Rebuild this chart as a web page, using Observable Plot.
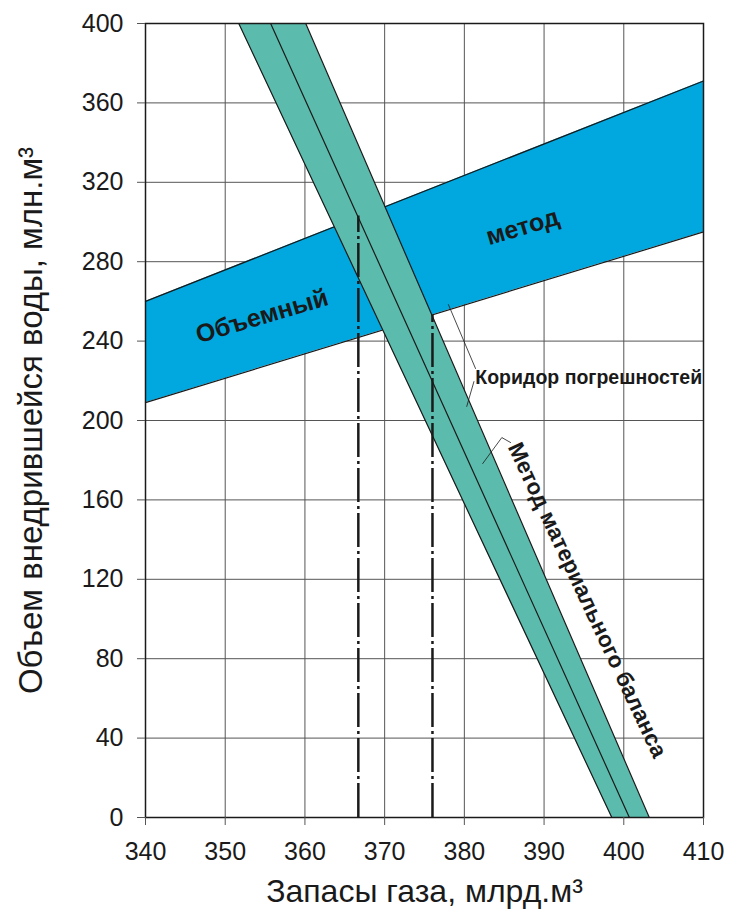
<!DOCTYPE html>
<html>
<head>
<meta charset="utf-8">
<script src="https://cdn.jsdelivr.net/npm/d3@7"></script>
<script src="https://cdn.jsdelivr.net/npm/@observablehq/plot@0.6"></script>
<style>
  body { margin: 0; background: white; }
  #chart { width: 730px; height: 916px; }
</style>
</head>
<body>
<div id="chart"></div>
<script>
// Axis ticks
const xTicks = [340, 350, 360, 370, 380, 390, 400, 410];
const yTicks = [0, 40, 80, 120, 160, 200, 240, 280, 320, 360, 400];

// Volumetric method band (x -> lower/upper water volume)
const volumetricX = [340, 410];
const volumetricLower = [209, 295];
const volumetricUpper = [260, 371];

// Material balance band (water volume -> reserves)
const balanceY = [400, 0];
const balanceLeft = [351.7, 398.5];
const balanceCenter = [355.7, 400.7];
const balanceRight = [360.1, 403.2];

// Estimated reserves (dash-dot verticals)
const estimateX = [366.7, 376.0];
const estimateTop = [303, 253];

// Leader lines for annotations
const leaderCorridorA = [[378.0, 258.4], [381.4, 226.2]];
const leaderCorridorB = [[381.2, 219.6], [380.3, 207.1]];
const leaderBalance = [[382.3, 178.3], [384.7, 191.4], [385.8, 188.9]];

// Labels
const labels = [
  {text: "Объемный", x: 354.6, y: 252.5, rotate: -16.5, size: 25},
  {text: "метод", x: 387.3, y: 297.5, rotate: -16.5, size: 25},
  {text: "Метод материального баланса", x: 395.4, y: 109.5, rotate: 64.9, size: 22.5}
];
const corridorLabel = [{text: "Коридор погрешностей", x: 395.6, y: 221.6}];

const xTitle = "Запасы газа, млрд.м³";
const yTitle = "Объем внедрившейся воды, млн.м³";

const blue = "#00a8df";
const green = "#5bbbac";
const ink = "#1a1a1a";

const volumetric = volumetricX.map((x, i) => ({x, lower: volumetricLower[i], upper: volumetricUpper[i]}));
const balance = balanceY.map((y, i) => ({y, left: balanceLeft[i], center: balanceCenter[i], right: balanceRight[i]}));
const estimates = estimateX.map((x, i) => ({x, top: estimateTop[i]}));
const toPts = arr => arr.map(([x, y]) => ({x, y}));

const chart = Plot.plot({
  width: 730,
  height: 916,
  marginLeft: 145,
  marginRight: 27,
  marginTop: 23,
  marginBottom: 99,
  x: {domain: [340, 410]},
  y: {domain: [0, 400]},
  style: {fontFamily: "'Liberation Sans', Arial, sans-serif", fontSize: "25px", background: "white", color: ink},
  marks: [
    Plot.gridX(xTicks, {stroke: "#555", strokeOpacity: 1, strokeWidth: 1}),
    Plot.gridY(yTicks, {stroke: "#555", strokeOpacity: 1, strokeWidth: 1}),
    Plot.areaY(volumetric, {x: "x", y1: "lower", y2: "upper", fill: blue}),
    Plot.line(volumetric, {x: "x", y: "upper", stroke: ink, strokeWidth: 1.2}),
    Plot.line(volumetric, {x: "x", y: "lower", stroke: ink, strokeWidth: 1.2}),
    Plot.areaX(balance, {y: "y", x1: "left", x2: "right", fill: green}),
    Plot.line(balance, {x: "left", y: "y", stroke: ink, strokeWidth: 1.2}),
    Plot.line(balance, {x: "center", y: "y", stroke: ink, strokeWidth: 1.2}),
    Plot.line(balance, {x: "right", y: "y", stroke: ink, strokeWidth: 1.2}),
    Plot.ruleX(estimates, {x: "x", y1: 0, y2: "top", stroke: ink, strokeWidth: 2.5, strokeDasharray: "34,4,3,4"}),
    Plot.line(toPts(leaderCorridorA), {x: "x", y: "y", stroke: ink, strokeWidth: 0.8}),
    Plot.line(toPts(leaderCorridorB), {x: "x", y: "y", stroke: ink, strokeWidth: 0.8}),
    Plot.line(toPts(leaderBalance), {x: "x", y: "y", stroke: ink, strokeWidth: 0.8}),
    Plot.frame({stroke: ink, strokeWidth: 1.5}),
    Plot.axisX({ticks: xTicks, tickSize: 8, tickPadding: 17, label: null, stroke: "#555"}),
    Plot.axisY({ticks: yTicks, tickSize: 8, tickPadding: 14, label: null, stroke: "#555"}),
    Plot.text(labels, {x: "x", y: "y", text: "text", rotate: "rotate", fontSize: d => d.size, fontWeight: "bold", fill: ink}),
    Plot.text(corridorLabel, {x: "x", y: "y", text: "text", fontSize: 19.5, fontWeight: "bold", fill: ink}),
    Plot.text([xTitle], {text: d => d, frameAnchor: "bottom", textAnchor: "middle", lineAnchor: "middle", dy: 74, fontSize: 32, fill: ink}),
    Plot.text([yTitle], {text: d => d, frameAnchor: "left", textAnchor: "middle", lineAnchor: "middle", dx: -114, rotate: -90, fontSize: 33, fill: ink})
  ]
});
document.getElementById("chart").append(chart);
</script>
</body>
</html>
